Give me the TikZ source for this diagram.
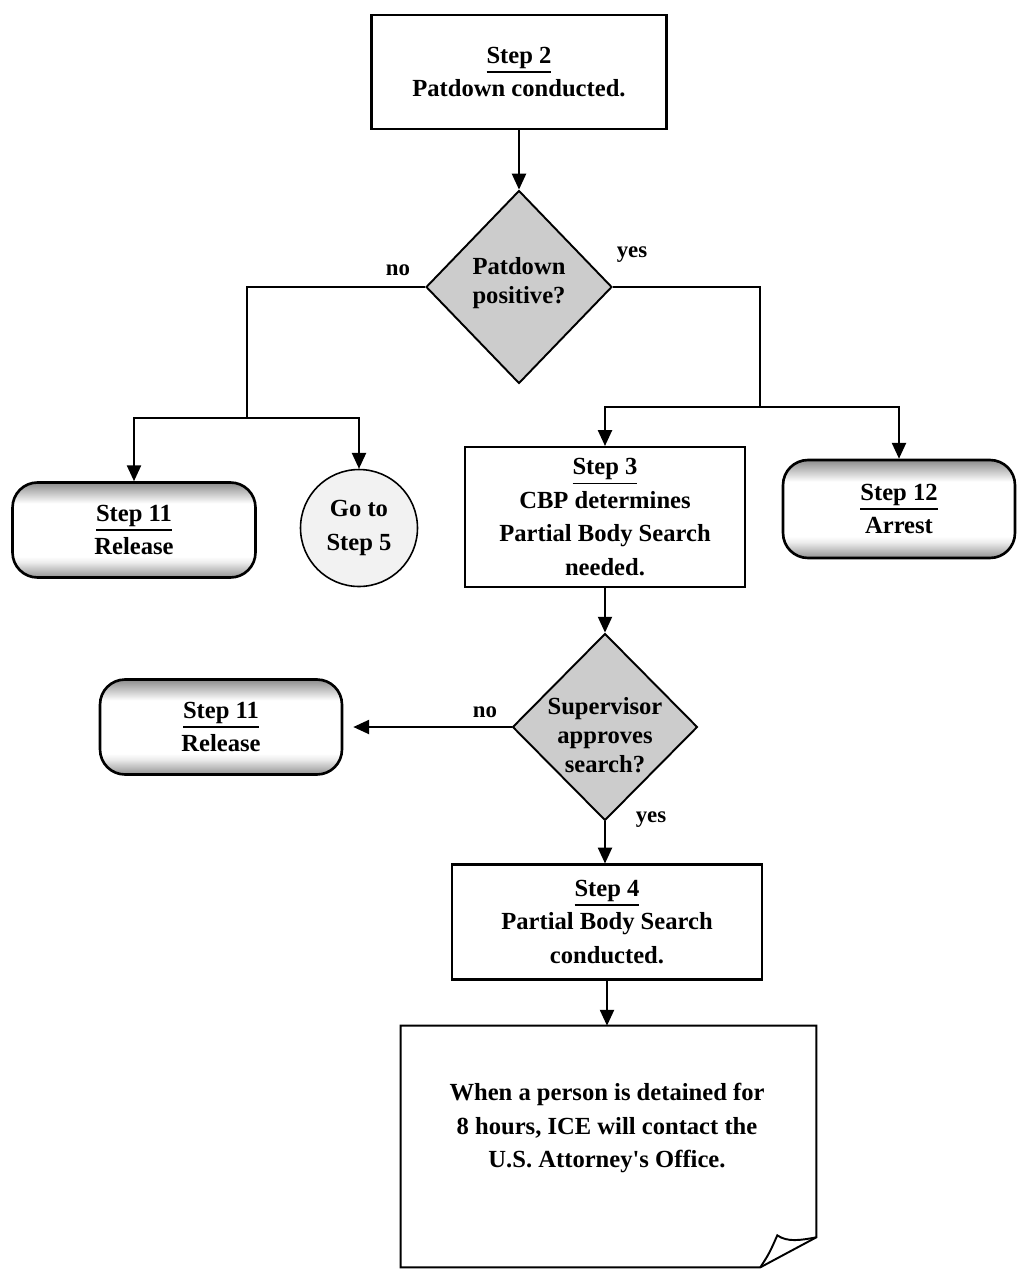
\documentclass[tikz,border=0pt]{standalone}
\usepackage{fontspec}
\setmainfont{Liberation Serif}
\usetikzlibrary{shapes.geometric,arrows.meta,calc}
\pgfdeclareverticalshading{endshade}{100bp}{color(0bp)=(gray!85); color(25bp)=(gray!85); color(33bp)=(gray!15); color(36bp)=(white); color(64bp)=(white); color(67bp)=(gray!25); color(75bp)=(gray!90); color(100bp)=(gray!90)}
\newcommand\sttl[1]{\leavevmode\setbox0=\hbox{#1}\vtop{\copy0\kern1.4pt\hrule height 0.9pt width\wd0}}
\begin{document}
\begin{tikzpicture}[x=0.02cm,y=-0.02cm,
  txt/.style={font=\fontsize{14}{19}\selectfont\bfseries, align=center},
  dtxt/.style={font=\fontsize{14}{16.5}\selectfont\bfseries, align=center, inner sep=0pt},
  procbox/.style={draw, line width=1.2pt, rectangle, inner sep=0pt, fill=white, txt},
  endbox/.style={draw, line width=1.5pt, rounded corners=0.5cm, shade, shading=endshade, inner sep=0pt, txt},
  decbox/.style={draw, line width=1.1pt, diamond, fill=gray!40, inner sep=0pt},
  gocircle/.style={draw, circle, line width=0.9pt, fill=gray!10, inner sep=0pt, txt},
  conn/.style={line width=1.1pt},
  arr/.style={line width=1.1pt, -{Triangle[length=9pt,width=8pt]}},
  lbl/.style={font=\fontsize{13}{15}\selectfont\bfseries, inner sep=0pt}
]
\fill[white] (0,0) rectangle (1017,1272);
\useasboundingbox (0,0) rectangle (1017,1272);

% nodes
\node[procbox, minimum width=5.9cm, minimum height=2.28cm] (s2) at (519,72) {\sttl{Step 2}\\Patdown conducted.};
\node[decbox, minimum width=3.72cm, minimum height=3.86cm] (d1) at (519,287) {};
\node[dtxt] (d1t) at (519,283) {Patdown\\positive?};
\coordinate (jL) at (247,418);
\coordinate (jR) at (760,407);
\node[endbox, minimum width=4.86cm, minimum height=1.9cm] (s11a) at (134,530) {\sttl{Step 11}\\Release};
\node[gocircle, minimum size=2.34cm] (c5) at (359,528) {Go to\\Step 5};
\node[procbox, minimum width=5.6cm, minimum height=2.8cm] (s3) at (605,517) {\sttl{Step 3}\\CBP determines\\Partial Body Search\\needed.};
\node[endbox, minimum width=4.64cm, minimum height=1.96cm] (s12) at (899,509) {\sttl{Step 12}\\Arrest};
\node[decbox, minimum width=3.7cm, minimum height=3.74cm] (d2) at (605,727) {};
\node[dtxt] (d2t) at (605,735) {Supervisor\\approves\\search?};
\node[endbox, minimum width=4.84cm, minimum height=1.9cm] (s11b) at (221,727) {\sttl{Step 11}\\Release};
\node[procbox, minimum width=6.2cm, minimum height=2.3cm] (s4) at (607,922) {\sttl{Step 4}\\Partial Body Search\\conducted.};
\node[inner sep=0pt, minimum width=8.3cm, minimum height=4.82cm] (note) at (608.5,1146.5) {};
\node[txt] (notet) at (607,1128) {When a person is detained for\\8 hours, ICE will contact the\\U.S. Attorney\textquotesingle s Office.};

% labels
\node[lbl] (no1) at (398,270) {no};
\node[lbl] (yes1) at (632,255) {yes};
\node[lbl] (no2) at (485,712) {no};
\node[lbl] (yes2) at (651,820) {yes};

% note outline with folded corner
\coordinate (nA) at ($(note.south east)+(-56,0)$);
\coordinate (nC) at ($(note.south east)+(0,-30)$);
\coordinate (nB) at ($(note.south east)+(-39,-32)$);
\draw[line width=1.1pt] (note.north west) -- (note.north east) -- (nC) -- (nA) -- (note.south west) -- cycle;
\draw[line width=1.1pt] (nA) .. controls ($(nA)+(9,-14)$) .. (nB) .. controls ($(nB)+(10,7)$) and ($(nC)+(-16,3)$) .. (nC);

% connectors
\draw[arr] (s2.south) -- (d1.north);
\draw[conn] (d1.west) -| (jL);
\draw[arr] (jL) -| (s11a.north);
\draw[arr] (jL) -| (c5.north);
\draw[conn] (d1.east) -| (jR);
\draw[arr] (jR) -| (s3.north);
\draw[arr] (jR) -| (s12.north);
\draw[arr] (s3.south) -- (d2.north);
\draw[arr, shorten >=0.2cm] (d2.west) -- (s11b.east);
\draw[arr] (d2.south) -- (d2.south |- s4.north);
\draw[arr] (s4.south) -- (s4.south |- note.north);
\end{tikzpicture}
\end{document}
